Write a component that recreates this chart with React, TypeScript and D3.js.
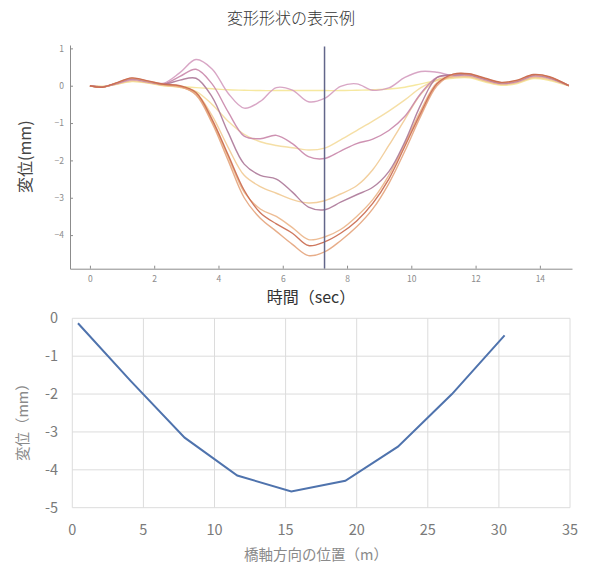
import * as d3 from "d3";
import { useEffect, useRef } from "react";

// --- top chart: displacement time histories (one line per gauge point) ---
const timeSec = [
  0, 0.4, 0.8, 1.3, 1.8, 2.3, 2.8, 3.3, 3.8, 4.3, 4.8, 5.3, 5.8, 6.3, 6.8, 7.3, 7.8, 8.3, 8.8, 9.3, 9.8,
  10.3, 10.8, 11.3, 11.8, 12.3, 12.8, 13.3, 13.8, 14.3, 14.9,
];

const disp04 = [
  0, -0.02, 0.03, 0.11, 0.07, 0.0, -0.02, -0.05, -0.08, -0.11, -0.12, -0.13, -0.13, -0.13, -0.13, -0.13, -0.13,
  -0.12, -0.11, -0.09, -0.04, 0.05, 0.14, 0.2, 0.21, 0.1, 0.01, 0.06, 0.19, 0.14, 0,
];
const disp41 = [
  0, -0.02, 0.035, 0.12, 0.08, 0.005, -0.04, -0.15, -0.5, -0.95, -1.3, -1.5, -1.6, -1.66, -1.72, -1.67, -1.45,
  -1.2, -0.95, -0.68, -0.38, -0.05, 0.15, 0.22, 0.23, 0.12, 0.03, 0.08, 0.21, 0.16, 0,
];
const disp79 = [
  0, -0.025, 0.04, 0.14, 0.085, 0.01, -0.04, -0.2, -0.8, -1.65, -2.4, -2.7, -2.88, -3.05, -3.14, -3.08, -2.9,
  -2.68, -2.25, -1.6, -0.9, -0.22, 0.16, 0.23, 0.24, 0.13, 0.04, 0.09, 0.22, 0.17, 0,
];
const disp116 = [
  0, -0.03, 0.045, 0.15, 0.09, 0.015, -0.03, -0.22, -0.95, -1.9, -2.85, -3.3, -3.5, -3.8, -4.12, -4.05, -3.85,
  -3.5, -3.05, -2.4, -1.55, -0.65, 0.08, 0.25, 0.26, 0.14, 0.05, 0.1, 0.24, 0.19, 0,
];
const disp154 = [
  0, -0.04, 0.065, 0.2, 0.12, 0.035, -0.02, -0.25, -1.0, -2.0, -3.0, -3.55, -3.9, -4.25, -4.55, -4.45, -4.15,
  -3.78, -3.3, -2.62, -1.75, -0.8, 0.0, 0.3, 0.31, 0.19, 0.08, 0.14, 0.29, 0.23, 0,
];
const disp192 = [
  0, -0.04, 0.07, 0.21, 0.13, 0.04, 0.0, -0.18, -0.9, -1.85, -2.8, -3.4, -3.7, -3.95, -4.28, -4.18, -3.95,
  -3.62, -3.15, -2.5, -1.62, -0.72, 0.05, 0.31, 0.32, 0.2, 0.09, 0.15, 0.3, 0.24, 0,
];
const disp229 = [
  0, -0.035, 0.06, 0.19, 0.115, 0.04, 0.15, 0.2, -0.3, -1.25, -2.1, -2.4, -2.5, -2.85, -3.25, -3.32, -3.12,
  -2.92, -2.72, -2.3, -1.5, -0.5, 0.22, 0.29, 0.3, 0.18, 0.07, 0.13, 0.28, 0.22, 0,
];
const disp267 = [
  0, -0.03, 0.055, 0.18, 0.11, 0.05, 0.25, 0.44, 0.05, -0.7, -1.35, -1.42, -1.33, -1.55, -1.9, -1.95, -1.75,
  -1.55, -1.43, -1.2, -0.82, -0.2, 0.22, 0.28, 0.29, 0.17, 0.065, 0.12, 0.27, 0.21, 0,
];
const disp304 = [
  0, -0.03, 0.05, 0.16, 0.1, 0.07, 0.35, 0.7, 0.45, -0.2, -0.6, -0.42, -0.05, -0.12, -0.43, -0.34, -0.02, 0.05,
  -0.12, -0.06, 0.22, 0.38, 0.36, 0.27, 0.28, 0.16, 0.06, 0.11, 0.26, 0.2, 0,
];

const gaugeSeries = [disp04, disp41, disp79, disp116, disp304, disp267, disp229, disp154, disp192];
const gaugeColors = [
  "#f5e596", "#f4db9c", "#f1ca94", "#ebb588", "#d49cbf", "#c986aa", "#ac7898", "#e4a47c", "#c9684c",
];

const cursorTime = 7.3;
const topTicksX = [0, 2, 4, 6, 8, 10, 12, 14];
const topTicksY = [1, 0, -1, -2, -3, -4];

// --- bottom chart: deflected shape along the bridge at the cursor time ---
const positionM = [0.4, 4.1, 7.9, 11.6, 15.4, 19.2, 22.9, 26.7, 30.4];
const shapeMm = [-0.13, -1.65, -3.15, -4.15, -4.57, -4.29, -3.39, -2.0, -0.45];
const bottomTicksX = [0, 5, 10, 15, 20, 25, 30, 35];
const bottomTicksY = [0, -1, -2, -3, -4, -5];

const FONT = "'Noto Sans CJK JP', 'Noto Sans', sans-serif";

export default function App() {
  const xAxisRef = useRef<SVGGElement>(null);
  const yAxisRef = useRef<SVGGElement>(null);

  const xTop = d3.scaleLinear().domain([-0.62, 15]).range([70, 572]);
  const yTop = d3.scaleLinear().domain([-4.9, 1.09]).range([268.7, 45]);

  const xBot = d3.scaleLinear().domain([0, 35]).range([72.3, 570]);
  const yBot = d3.scaleLinear().domain([-5, 0]).range([507.7, 318.3]);

  const topLine = d3
    .line<number>()
    .x((_, i) => xTop(timeSec[i]))
    .y((d) => yTop(d))
    .curve(d3.curveCatmullRom.alpha(0.5));

  const shapeLine = d3
    .line<number>()
    .x((_, i) => xBot(positionM[i]))
    .y((d) => yBot(d));

  useEffect(() => {
    const gx = d3.select(xAxisRef.current!);
    gx.call(d3.axisBottom(xTop).tickValues(topTicksX).tickSizeInner(-3).tickSizeOuter(0).tickPadding(7));
    gx.selectAll("text").attr("fill", "#8c8c8c").attr("font-size", 8.5).attr("font-family", FONT);
    gx.selectAll("path,line").attr("stroke", "#8c8c8c");

    const gy = d3.select(yAxisRef.current!);
    gy.call(d3.axisLeft(yTop).tickValues(topTicksY).tickSizeInner(-3).tickSizeOuter(0).tickPadding(6).tickFormat(d3.format("d")));
    gy.selectAll("text").attr("fill", "#8c8c8c").attr("font-size", 8.5).attr("font-family", FONT);
    gy.selectAll("path,line").attr("stroke", "#8c8c8c");
  }, []);

  return (
    <svg
      width={591}
      height={570}
      style={{ position: "absolute", left: 0, top: 0, background: "#fff" }}
      fontFamily={FONT}
    >
      <text x={291} y={24} textAnchor="middle" fontSize={16} fontWeight={300} fill="#333">
        変形形状の表示例
      </text>

      {/* top chart */}
      <g>
        {gaugeSeries.map((vals, i) => (
          <path
            key={i}
            d={topLine(vals) ?? ""}
            fill="none"
            stroke={gaugeColors[i]}
            strokeWidth={1.4}
            strokeOpacity={0.9}
          />
        ))}
        <line
          x1={xTop(cursorTime)}
          x2={xTop(cursorTime)}
          y1={yTop(1.05)}
          y2={yTop(-4.9)}
          stroke="#62668a"
          strokeWidth={1.5}
        />
        <g ref={xAxisRef} transform={`translate(0,${yTop(-4.9)})`} />
        <g ref={yAxisRef} transform={`translate(${xTop(-0.62)},0)`} />
        <text
          transform={`translate(31,${yTop(-1.9)}) rotate(-90)`}
          textAnchor="middle"
          fontSize={16}
          fill="#444"
        >
          変位(mm)
        </text>
        <text x={311} y={303} textAnchor="middle" fontSize={16} fill="#333">
          時間（sec）
        </text>
      </g>

      {/* bottom chart */}
      <g>
        {bottomTicksX.map((t) => (
          <line key={`gx${t}`} x1={xBot(t)} x2={xBot(t)} y1={yBot(0)} y2={yBot(-5)} stroke="#dcdcdc" />
        ))}
        {bottomTicksY.map((t) => (
          <line key={`gy${t}`} x1={xBot(0)} x2={xBot(35)} y1={yBot(t)} y2={yBot(t)} stroke="#dcdcdc" />
        ))}
        {bottomTicksX.map((t) => (
          <text key={`tx${t}`} x={xBot(t)} y={535} textAnchor="middle" fontSize={14.5} fill="#7a7a7a">
            {t}
          </text>
        ))}
        {bottomTicksY.map((t) => (
          <text key={`ty${t}`} x={58} y={yBot(t) + 5} textAnchor="end" fontSize={14.5} fill="#7a7a7a">
            {t}
          </text>
        ))}
        <path d={shapeLine(shapeMm) ?? ""} fill="none" stroke="#4f73ad" strokeWidth={2} />
        <text
          transform={`translate(28,${yBot(-2.65)}) rotate(-90)`}
          textAnchor="middle"
          fontSize={14.5}
          fill="#8a8a8a"
        >
          変位（mm）
        </text>
        <text x={316} y={560} textAnchor="middle" fontSize={14.5} fill="#8a8a8a">
          橋軸方向の位置（m）
        </text>
      </g>
    </svg>
  );
}
